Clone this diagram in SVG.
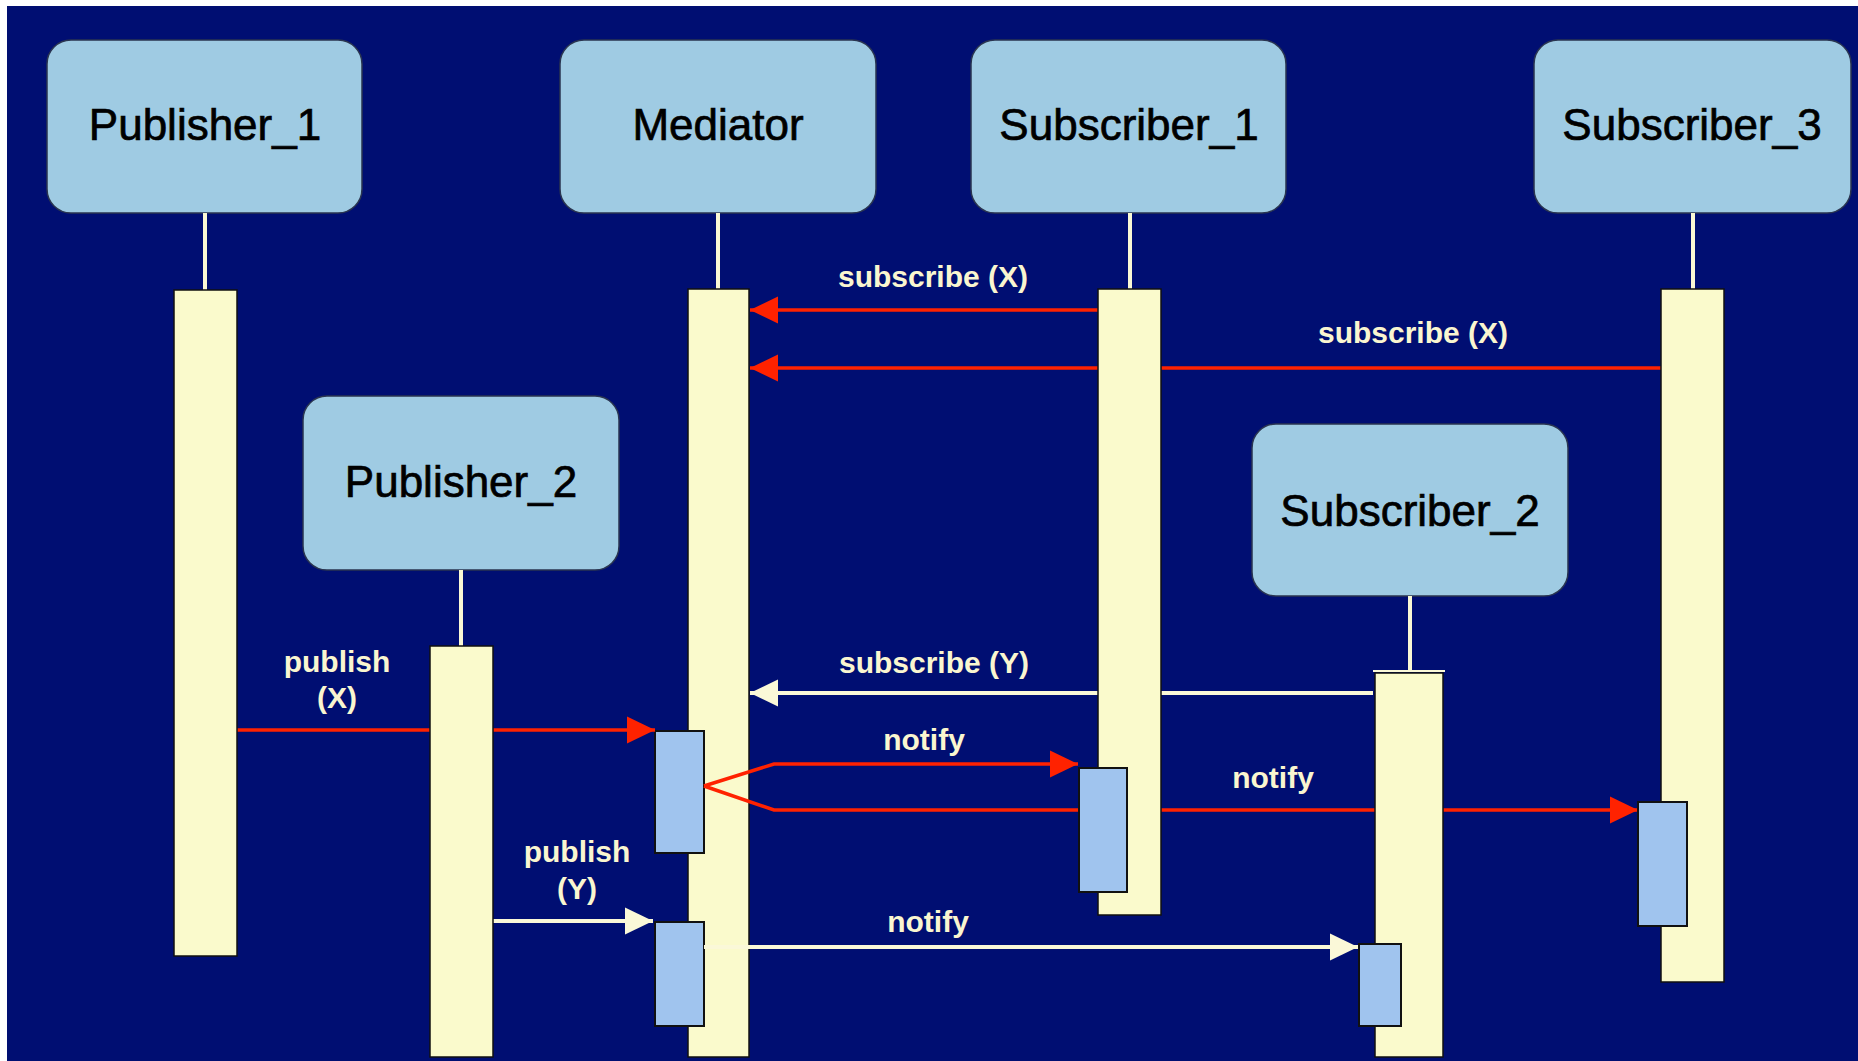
<svg xmlns="http://www.w3.org/2000/svg" width="1858" height="1061" viewBox="0 0 1858 1061">
  <style>
    .box { fill: #9fcbe3; stroke: #2a3550; stroke-width: 1.5; }
    .name { font-family: "Liberation Sans", Arial, sans-serif; font-size: 44px; fill: #000; stroke: #000; stroke-width: 0.7; text-anchor: middle; }
    .stem { stroke: #faf8d4; stroke-width: 4; }
    .bar { fill: #fafacc; stroke: #111; stroke-width: 1.5; }
    .act { fill: #a0c4ee; stroke: #111; stroke-width: 2; }
    .lbl { font-family: "Liberation Sans", Arial, sans-serif; font-size: 30px; font-weight: bold; fill: #faf6d0; text-anchor: middle; }
    .red { fill: none; stroke: #ff2200; stroke-width: 3.5; }
    .white { fill: none; stroke: #faf8d8; stroke-width: 4; }
  </style>
  <defs>
    <marker id="arrowRed" markerUnits="userSpaceOnUse" markerWidth="28" markerHeight="28" viewBox="0 0 28 28" refX="28" refY="14" orient="auto">
      <path d="M0,0.5 L28,14 L0,27.5 z" fill="#ff2200"/>
    </marker>
    <marker id="arrowWhite" markerUnits="userSpaceOnUse" markerWidth="28" markerHeight="28" viewBox="0 0 28 28" refX="28" refY="14" orient="auto">
      <path d="M0,0.5 L28,14 L0,27.5 z" fill="#faf8d8"/>
    </marker>
  </defs>

  <!-- backdrop -->
  <rect x="0" y="0" width="1858" height="1061" fill="#ffffff"/>
  <rect x="7" y="6" width="1851" height="1055" fill="#000e72"/>

  <!-- Mediator sits beneath the messages so the outgoing notifies cross its bar -->
  <g id="mediator">
    <rect class="box" x="560" y="40" width="316" height="173" rx="24"/>
    <text class="name" x="718" y="140">Mediator</text>
    <line class="stem" x1="718" y1="213" x2="718" y2="289"/>
    <rect class="bar" x="688" y="289" width="61" height="768"/>
    <rect class="act" x="655" y="731" width="49" height="122"/>
    <rect class="act" x="655" y="922" width="49" height="104"/>
  </g>

  <g id="connectors">
    <path class="red" d="M1098,310 H750" marker-end="url(#arrowRed)"/>
    <path class="red" d="M1661,368 H750" marker-end="url(#arrowRed)"/>
    <path class="white" d="M1373,693 H750" marker-end="url(#arrowWhite)"/>
    <path class="red" d="M237,730 H655" marker-end="url(#arrowRed)"/>
    <path class="red" d="M704,786 L774,764 H1078" marker-end="url(#arrowRed)"/>
    <path class="red" d="M704,786 L774,810 H1638" marker-end="url(#arrowRed)"/>
    <path class="white" d="M493,921 H653" marker-end="url(#arrowWhite)"/>
    <path class="white" d="M704,947 H1358" marker-end="url(#arrowWhite)"/>

    <text class="lbl" x="933" y="287">subscribe (X)</text>
    <text class="lbl" x="1413" y="343">subscribe (X)</text>
    <text class="lbl" x="337" y="672">publish</text>
    <text class="lbl" x="337" y="708">(X)</text>
    <text class="lbl" x="934" y="673">subscribe (Y)</text>
    <text class="lbl" x="924" y="750">notify</text>
    <text class="lbl" x="1273" y="788">notify</text>
    <text class="lbl" x="577" y="862">publish</text>
    <text class="lbl" x="577" y="899">(Y)</text>
    <text class="lbl" x="928" y="932">notify</text>
  </g>

  <g id="publisher1">
    <rect class="box" x="47" y="40" width="315" height="173" rx="24"/>
    <text class="name" x="205" y="140">Publisher_1</text>
    <line class="stem" x1="205" y1="213" x2="205" y2="290"/>
    <rect class="bar" x="174" y="290" width="63" height="666"/>
  </g>

  <g id="publisher2">
    <rect class="box" x="303" y="396" width="316" height="174" rx="24"/>
    <text class="name" x="461" y="497">Publisher_2</text>
    <line class="stem" x1="461" y1="570" x2="461" y2="646"/>
    <rect class="bar" x="430" y="646" width="63" height="411"/>
  </g>

  <g id="subscriber1">
    <rect class="box" x="971" y="40" width="315" height="173" rx="24"/>
    <text class="name" x="1129" y="140">Subscriber_1</text>
    <line class="stem" x1="1130" y1="213" x2="1130" y2="289"/>
    <rect class="bar" x="1098" y="289" width="63" height="626"/>
    <rect class="act" x="1079" y="768" width="48" height="124"/>
  </g>

  <g id="subscriber2">
    <rect class="box" x="1252" y="424" width="316" height="172" rx="24"/>
    <text class="name" x="1410" y="526">Subscriber_2</text>
    <line class="stem" x1="1410" y1="596" x2="1410" y2="672"/>
    <line x1="1373" y1="671" x2="1445" y2="671" stroke="#faf8d8" stroke-width="2"/>
    <rect class="bar" x="1375" y="673" width="68" height="384"/>
    <rect class="act" x="1359" y="944" width="42" height="82"/>
  </g>

  <g id="subscriber3">
    <rect class="box" x="1534" y="40" width="317" height="173" rx="24"/>
    <text class="name" x="1692" y="140">Subscriber_3</text>
    <line class="stem" x1="1693" y1="213" x2="1693" y2="289"/>
    <rect class="bar" x="1661" y="289" width="63" height="693"/>
    <rect class="act" x="1638" y="802" width="49" height="124"/>
  </g>
</svg>
